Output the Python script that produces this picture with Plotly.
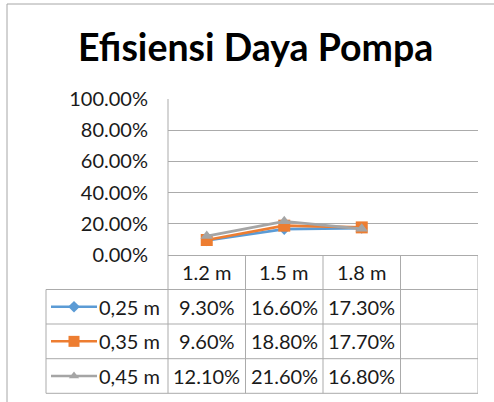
import plotly.graph_objects as go

# ---- data ----
categories = ["1.2 m", "1.5 m", "1.8 m", ""]
series_names = ["0,25 m", "0,35 m", "0,45 m"]
eff_025 = [9.30, 16.60, 17.30]
eff_035 = [9.60, 18.80, 17.70]
eff_045 = [12.10, 21.60, 16.80]
y_ticks = [0, 20, 40, 60, 80, 100]
title_text = "Efisiensi Daya Pompa"

series_values = [eff_025, eff_035, eff_045]
colors = ["#5B9BD5", "#ED7D31", "#A5A5A5"]
symbols = ["diamond", "square", "triangle-up"]
msizes = [9, 12, 11]
legend_msizes = [9, 11, 9]

W, H = 494, 402
FONT = "Lato"
GRID = "#ABABAB"
TXT = "#1a1a1a"

def px(x):
    return x / W

def py(y):
    return 1 - y / H

plot_left, plot_right, plot_top, plot_bottom = 168, 478, 99, 255
row_lines = [255, 289.5, 324, 358.7, 393.3]
table_left = 46
key_x0, key_x1, label_right = 51, 97, 162

fig = go.Figure()
xs = list(range(len(categories)))
for name, vals, c, s, ms in zip(series_names, series_values, colors, symbols, msizes):
    fig.add_trace(go.Scatter(
        x=xs[:len(vals)], y=[v / 100 for v in vals], name=name,
        mode="lines+markers", line=dict(color=c, width=2.75),
        marker=dict(symbol=s, size=ms, color=c), cliponaxis=False, showlegend=False,
    ))

# legend keys inside the data table (pixel overlay axes)
annotations = []
tfont = dict(family=FONT, size=20, color=TXT)
for r, (name, c, s, ms) in enumerate(zip(series_names, colors, symbols, legend_msizes)):
    yc = (row_lines[r + 1] + row_lines[r + 2]) / 2
    fig.add_trace(go.Scatter(
        x=[key_x0, key_x1], y=[yc, yc], xaxis="x2", yaxis="y2", mode="lines",
        line=dict(color=c, width=2.5), showlegend=False, hoverinfo="skip"))
    fig.add_trace(go.Scatter(
        x=[(key_x0 + key_x1) / 2], y=[yc], xaxis="x2", yaxis="y2", mode="markers",
        marker=dict(symbol=s, size=ms, color=c), showlegend=False, hoverinfo="skip"))
    annotations.append(dict(x=px(label_right), xref="paper", y=py(yc), yref="paper", text=name,
                            showarrow=False, font=tfont, xanchor="right", yanchor="middle"))

shapes = []
# outer chart border
shapes.append(dict(type="rect", xref="paper", yref="paper", x0=px(7), x1=px(520),
                   y0=py(430), y1=py(4), line=dict(color="#A6A6A6", width=1)))
# vertical axis line extended through table
shapes.append(dict(type="line", xref="paper", yref="paper", x0=px(plot_left), x1=px(plot_left),
                   y0=py(plot_top), y1=py(row_lines[-1]), line=dict(color=GRID, width=1)))
# table column lines
for b in [0.5, 1.5, 2.5, 3.5]:
    shapes.append(dict(type="line", xref="x", yref="paper", x0=b, x1=b,
                       y0=py(row_lines[0]), y1=py(row_lines[-1]), line=dict(color=GRID, width=1)))
shapes.append(dict(type="line", xref="paper", yref="paper", x0=px(table_left), x1=px(table_left),
                   y0=py(row_lines[1]), y1=py(row_lines[-1]), line=dict(color=GRID, width=1)))
# table row lines
for r in row_lines[1:]:
    shapes.append(dict(type="line", xref="paper", yref="paper", x0=px(table_left), x1=px(plot_right),
                       y0=py(r), y1=py(r), line=dict(color=GRID, width=1)))

# header categories
for i, c in enumerate(categories):
    if c:
        annotations.append(dict(x=i, xref="x", y=py((row_lines[0] + row_lines[1]) / 2), yref="paper",
                                text=c, showarrow=False, font=tfont, xanchor="center", yanchor="middle"))
# values
for r, vals in enumerate(series_values):
    yc = py((row_lines[r + 1] + row_lines[r + 2]) / 2)
    for i, v in enumerate(vals):
        annotations.append(dict(x=i, xref="x", y=yc, yref="paper", text=f"{v:.2f}%",
                                showarrow=False, font=tfont, xanchor="center", yanchor="middle"))
# title
annotations.append(dict(x=px(255), xref="paper", y=py(47), yref="paper", text=f"<b>{title_text}</b>",
                        showarrow=False, font=dict(family=FONT, size=37.5, color="#000000"),
                        xanchor="center", yanchor="middle"))

fig.update_layout(
    width=W, height=H, margin=dict(l=0, r=0, t=0, b=0, autoexpand=False),
    paper_bgcolor="white", plot_bgcolor="rgba(0,0,0,0)",
    font=dict(family=FONT, size=20, color=TXT),
    showlegend=False,
    xaxis=dict(domain=[px(plot_left), px(plot_right)], range=[-0.5, 3.5],
               showticklabels=False, showgrid=False, zeroline=False, showline=False,
               fixedrange=True, automargin=False),
    yaxis=dict(domain=[py(plot_bottom), py(plot_top)], range=[0, 1],
               tickvals=[t / 100 for t in y_ticks], tickformat=".2%",
               showgrid=True, gridcolor=GRID, gridwidth=1,
               zeroline=True, zerolinecolor=GRID, zerolinewidth=1,
               showline=False, ticks="outside", ticklen=15, tickcolor="rgba(0,0,0,0)",
               tickfont=dict(family=FONT, size=20, color=TXT), automargin=False),
    xaxis2=dict(domain=[0, 1], range=[0, W], visible=False, fixedrange=True, automargin=False,
                anchor="y2"),
    yaxis2=dict(domain=[0, 1], range=[H, 0], visible=False, fixedrange=True, automargin=False,
                anchor="x2"),
    shapes=shapes, annotations=annotations,
)

fig.write_html("out.html", config={"displayModeBar": False},
               post_script="document.body.style.margin='0';")
